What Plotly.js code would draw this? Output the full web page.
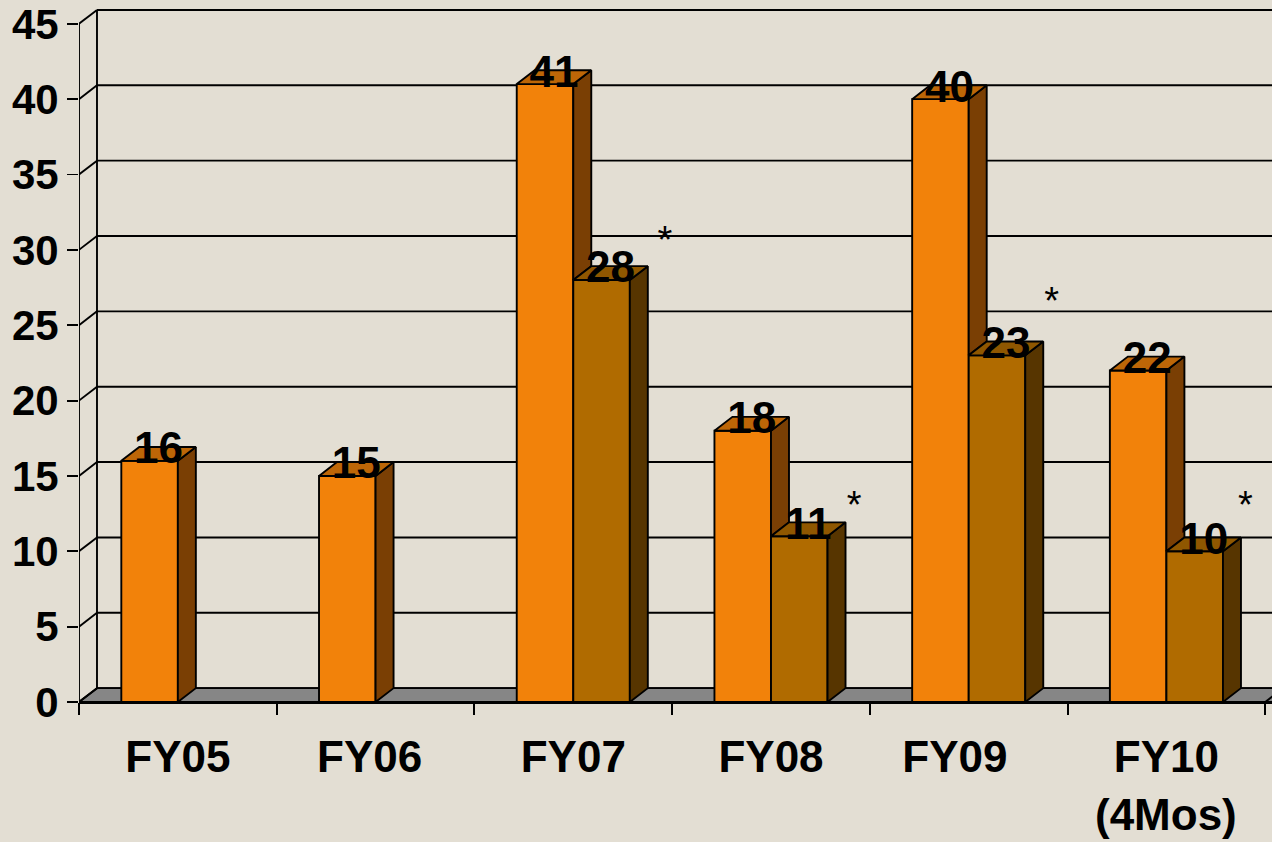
<!DOCTYPE html>
<html>
<head>
<meta charset="utf-8">
<script src="https://cdn.plot.ly/plotly-3.0.1.min.js"></script>
<style>html,body{margin:0;padding:0;background:#E3DED3;overflow:hidden}#c{width:1272px;height:842px}</style>
</head>
<body>
<div id="c"></div>
<script>
var categories = ['FY05','FY06','FY07','FY08','FY09','FY10'];
var seriesA = [16,15,41,18,40,22];
var seriesB = [null,null,28,11,23,10];
var labelPos = [0,0.97,2,3,3.93,5];
var yTicks = [0,5,10,15,20,25,30,35,40,45];
var boundaryTicks = [-0.5,0.5,1.5,2.5,3.5,4.5,5.5];
var starX = [2.464,3.42,4.42,5.40];
var starY = [30.45,12.85,26.35,12.85];

var FONT = 'Liberation Sans, Arial, sans-serif';
var DX = 0.091, DY = 0.92, W = 0.286, LABEL_DROP = 0.35, LW = 1.9;
var XMIN = -0.5, XMAX = 5.534, YMAX = 46.58;
var BG = '#E3DED3';

var traces = [];
traces.push({type:'bar',x:[0,1,2,3,4,5],y:seriesA,offsetgroup:'a',marker:{color:'#F2820A',line:{color:'#000',width:LW}},hoverinfo:'skip',showlegend:false});
traces.push({type:'bar',x:[0,1,2,3,4,5],y:seriesB,offsetgroup:'b',marker:{color:'#B06B00',line:{color:'#000',width:LW}},hoverinfo:'skip',showlegend:false});

function poly(xs,ys,col){
  traces.push({type:'scatter',mode:'lines',x:xs.concat(xs[0]),y:ys.concat(ys[0]),fill:'toself',fillcolor:col,
    line:{color:'#000',width:LW},hoverinfo:'skip',showlegend:false});
}
seriesA.forEach(function(v,i){
  var l=i-W, r=i, b=seriesB[i];
  var low=(b===null)?0:b;
  poly([r,r+DX,r+DX,r],[v,v+DY,low+DY,low],'#7A3F04');
  poly([l,r,r+DX,l+DX],[v,v,v+DY,v+DY],'#BD6607');
});
seriesB.forEach(function(v,i){
  if(v===null) return;
  var l=i, r=i+W;
  poly([r,r+DX,r+DX,r],[v,v+DY,DY,0],'#573500');
  poly([l,r,r+DX,l+DX],[v,v,v+DY,v+DY],'#8F5700');
});

var lx=[],ly=[],lt=[];
seriesA.forEach(function(v,i){lx.push(i-W/2+DX/2);ly.push(v+DY-LABEL_DROP);lt.push(String(v));});
seriesB.forEach(function(v,i){if(v!==null){lx.push(i+W/2+DX/2);ly.push(v+DY-LABEL_DROP);lt.push(String(v));}});
traces.push({type:'scatter',mode:'text',x:lx,y:ly,text:lt,textposition:'middle center',cliponaxis:false,
  textfont:{family:FONT,size:44,color:'#000',weight:700},hoverinfo:'skip',showlegend:false});
traces.push({type:'scatter',mode:'text',xaxis:'x2',x:starX,y:starY,text:starX.map(function(){return '*';}),textposition:'middle center',cliponaxis:false,
  textfont:{family:FONT,size:38,color:'#000'},hoverinfo:'skip',showlegend:false});

var shapes = [];
function seg(x0,y0,x1,y1){
  shapes.push({type:'line',layer:'below',xref:'x',yref:'y',x0:x0,y0:y0,x1:x1,y1:y1,line:{color:'#000',width:LW}});
}
shapes.push({type:'path',layer:'below',xref:'x',yref:'y',
  path:'M'+XMIN+',0 L'+(XMIN+DX)+','+DY+' L'+(XMAX+DX)+','+DY+' L'+(XMAX)+',0 Z',
  fillcolor:'#868686',line:{color:'#000',width:LW}});
yTicks.forEach(function(v){
  seg(XMIN,v,XMIN+DX,v+DY);
  seg(XMIN+DX,v+DY,XMAX,v+DY);
});
seg(XMIN,0,XMIN,45);
seg(XMIN+DX,DY,XMIN+DX,45+DY);
seg(5.5,0,5.5+DX,DY);

var layout = {
  width:1272,height:842,
  paper_bgcolor:BG,plot_bgcolor:BG,
  margin:{l:79,r:0,t:0,b:140,pad:0},
  showlegend:false,
  bargap:0.428,bargroupgap:0,barmode:'group',
  font:{family:FONT,color:'#000'},
  xaxis:{type:'linear',range:[XMIN,XMAX],tickmode:'array',tickvals:labelPos,ticktext:categories,
    ticks:'outside',ticklen:15,tickcolor:'rgba(0,0,0,0)',tickangle:0,
    tickfont:{family:FONT,size:44,color:'#000',weight:700},
    showgrid:false,zeroline:false,showline:true,linecolor:'#000',linewidth:2},
  xaxis2:{type:'linear',overlaying:'x',anchor:'y',side:'bottom',range:[XMIN,XMAX],tickmode:'array',tickvals:boundaryTicks,
    ticktext:boundaryTicks.map(function(){return '';}),ticks:'outside',ticklen:12,tickwidth:LW,tickcolor:'#000',
    showgrid:false,zeroline:false,showline:false},
  yaxis:{type:'linear',range:[0,YMAX],tickmode:'array',tickvals:yTicks,ticktext:yTicks.map(String),
    ticks:'outside',ticklen:11,tickwidth:LW,tickcolor:'#000',
    tickfont:{family:FONT,size:42,color:'#000',weight:700},
    showgrid:false,zeroline:false,showline:false},
  shapes:shapes,
  annotations:[{xref:'x',yref:'paper',x:5,y:-112/702,text:'(4Mos)',showarrow:false,xanchor:'center',yanchor:'middle',
    font:{family:FONT,size:44,color:'#000',weight:700}}]
};
Plotly.newPlot('c',traces,layout,{displayModeBar:false,staticPlot:true});
</script>
</body>
</html>
